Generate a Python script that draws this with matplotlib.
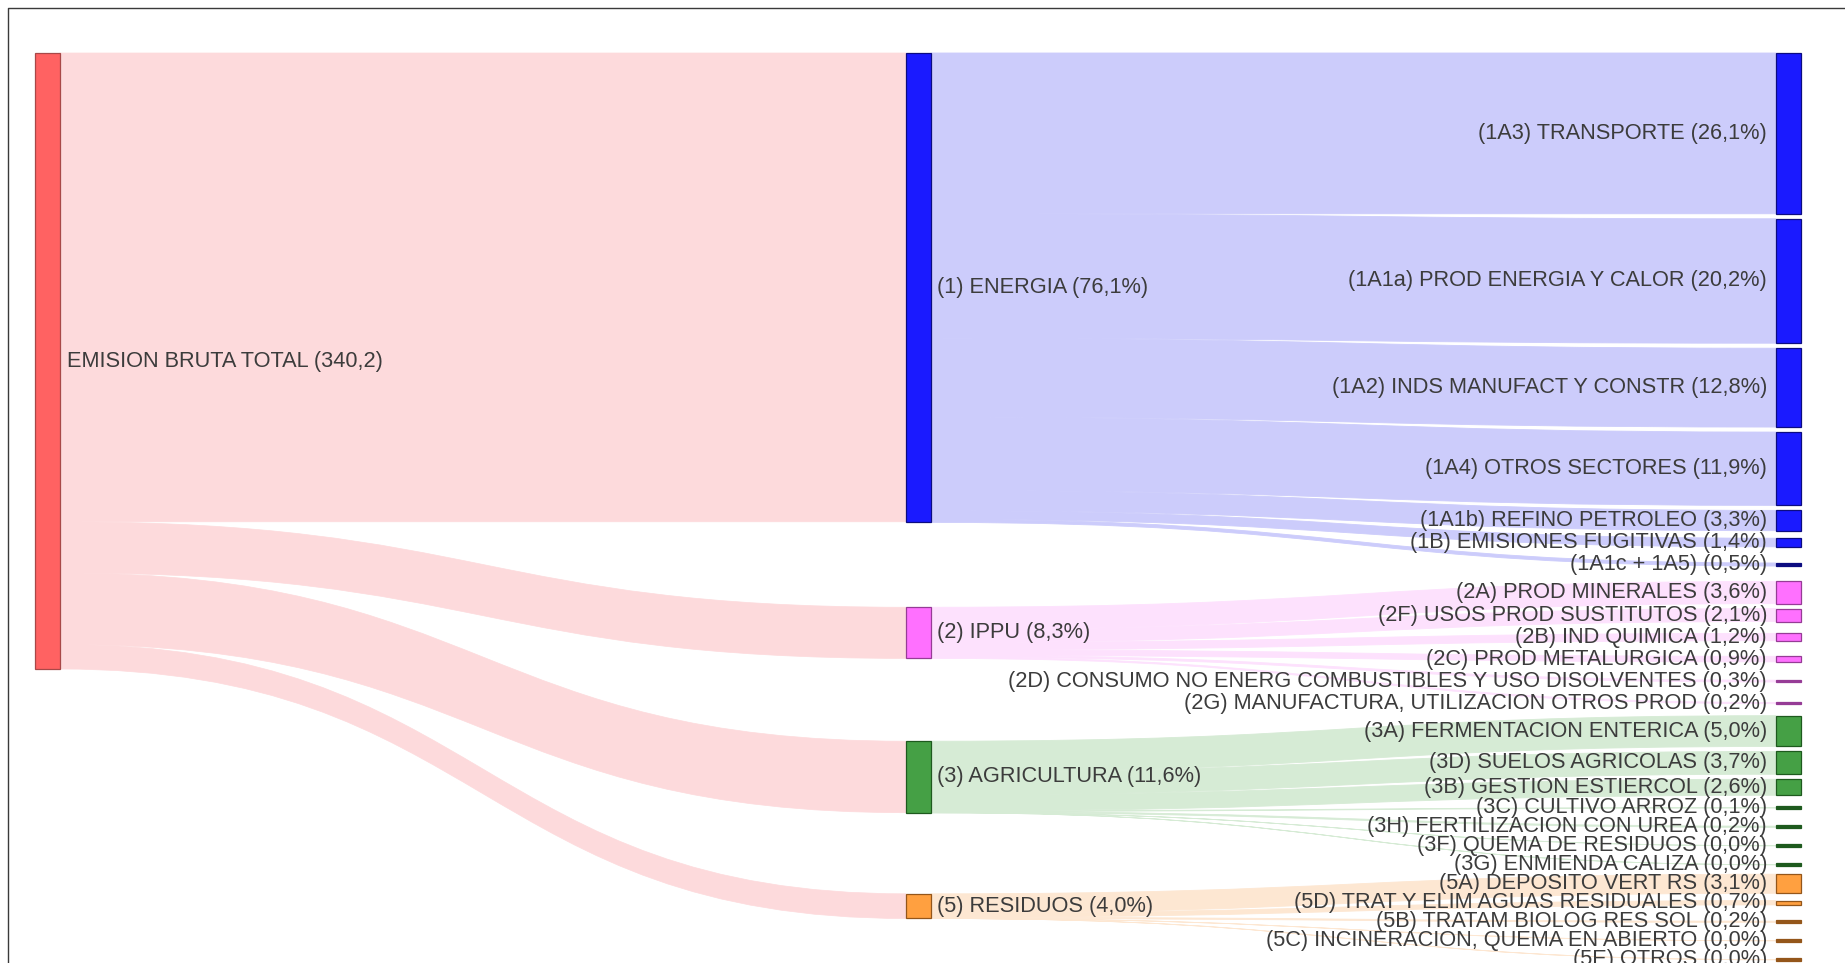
import numpy as np
import matplotlib.pyplot as plt
from matplotlib.path import Path
from matplotlib.patches import PathPatch, Rectangle

plt.rcParams['font.family'] = ['Liberation Sans', 'DejaVu Sans']

### DATA ###

total_name = 'EMISION BRUTA TOTAL'
total_value = 340.2

sector_codes = ['1', '2', '3', '5']
sector_names = ['ENERGIA', 'IPPU', 'AGRICULTURA', 'RESIDUOS']
sector_pct = [76.1, 8.3, 11.6, 4.0]

sub_parent = [0, 0, 0, 0, 0, 0, 0,
              1, 1, 1, 1, 1, 1,
              2, 2, 2, 2, 2, 2, 2,
              3, 3, 3, 3, 3]
sub_codes = ['1A3', '1A1a', '1A2', '1A4', '1A1b', '1B', '1A1c + 1A5',
             '2A', '2F', '2B', '2C', '2D', '2G',
             '3A', '3D', '3B', '3C', '3H', '3F', '3G',
             '5A', '5D', '5B', '5C', '5E']
sub_names = ['TRANSPORTE', 'PROD ENERGIA Y CALOR', 'INDS MANUFACT Y CONSTR',
             'OTROS SECTORES', 'REFINO PETROLEO', 'EMISIONES FUGITIVAS', '',
             'PROD MINERALES', 'USOS PROD SUSTITUTOS', 'IND QUIMICA',
             'PROD METALURGICA',
             'CONSUMO NO ENERG COMBUSTIBLES Y USO DISOLVENTES',
             'MANUFACTURA, UTILIZACION OTROS PROD',
             'FERMENTACION ENTERICA', 'SUELOS AGRICOLAS', 'GESTION ESTIERCOL',
             'CULTIVO ARROZ', 'FERTILIZACION CON UREA', 'QUEMA DE RESIDUOS',
             'ENMIENDA CALIZA',
             'DEPOSITO VERT RS', 'TRAT Y ELIM AGUAS RESIDUALES',
             'TRATAM BIOLOG RES SOL', 'INCINERACION, QUEMA EN ABIERTO', 'OTROS']
sub_pct = [26.1, 20.2, 12.8, 11.9, 3.3, 1.4, 0.5,
           3.6, 2.1, 1.2, 0.9, 0.3, 0.2,
           5.0, 3.7, 2.6, 0.1, 0.2, 0.0, 0.0,
           3.1, 0.7, 0.2, 0.0, 0.0]

### STYLE / LAYOUT ###

W, H = 1845, 963
top, bottom = 53, 961          # chart area (px)
ppp = 6.16                     # px per percent
node_w = 25
x_left, x_mid, x_right = 35, 906, 1776
pad = 5                        # min gap between nodes
sep_down, sep_up = 22, 19      # min centre distance (labels)
group_gap = 6
min_h = 2.5

total_color, total_edge, total_link = '#ff6262', '#a84848', '#fddadc'
node_colors = ['#1a1aff', '#ff70ff', '#45a045', '#ffa040']
node_edges = ['#0c0c80', '#963c96', '#1e5a1e', '#94561a']
link_colors = ['#ccccfb', '#fde1fd', '#d6ebd5', '#fde7d2']
txt_color = '#3c3c3c'
fs = 15.7


def fmt(v):
    return ('%.1f' % v).replace('.', ',')


def band(x0, x1, y0a, y0b, y1a, y1b):
    xm = (x0 + x1) / 2.0
    verts = [(x0, y0a), (xm, y0a), (xm, y1a), (x1, y1a),
             (x1, y1b), (xm, y1b), (xm, y0b), (x0, y0b), (x0, y0a)]
    codes = [Path.MOVETO, Path.CURVE4, Path.CURVE4, Path.CURVE4,
             Path.LINETO, Path.CURVE4, Path.CURVE4, Path.CURVE4, Path.CLOSEPOLY]
    return Path(verts, codes)


### RIGHT COLUMN LAYOUT ###

n = len(sub_pct)
w_r = np.array(sub_pct) * ppp
h_r = np.maximum(w_r, min_h)
c_r = np.zeros(n)
c_r[0] = top + h_r[0] / 2
for i in range(1, n):
    g = group_gap if sub_parent[i] != sub_parent[i - 1] else 0
    c_r[i] = max(c_r[i - 1] + sep_down + g,
                 c_r[i - 1] + h_r[i - 1] / 2 + pad + g + h_r[i] / 2)
if c_r[-1] + h_r[-1] / 2 > bottom:
    c_r[-1] = bottom - h_r[-1] / 2
    for i in range(n - 2, -1, -1):
        c_r[i] = min(c_r[i], c_r[i + 1] - sep_up,
                     c_r[i + 1] - h_r[i + 1] / 2 - pad - h_r[i] / 2)
top_r = c_r - h_r / 2

### MIDDLE COLUMN LAYOUT ###

h_m = np.array(sector_pct) * ppp
top_m = np.zeros(len(sector_pct))
for k in range(len(sector_pct)):
    idx = [i for i in range(n) if sub_parent[i] == k]
    span_c = (top_r[idx[0]] + top_r[idx[-1]] + h_r[idx[-1]]) / 2
    offs = np.concatenate([[0], np.cumsum(w_r[idx])[:-1]])
    tgt = np.array([c_r[i] - w_r[i] / 2 for i in idx])
    wts = w_r[idx]
    link_c = np.sum(wts * (tgt - offs)) / np.sum(wts) + h_m[k] / 2
    cc = 0.6 * span_c + 0.4 * link_c
    t = cc - h_m[k] / 2
    if t - top < 20:
        t = top
    top_m[k] = t

### PLOT ###

fig = plt.figure(figsize=(W / 100, H / 100), dpi=100)
ax = fig.add_axes([0, 0, 1, 1])
ax.set_xlim(0, W)
ax.set_ylim(H, 0)
ax.axis('off')

# frame
ax.plot([8, 8, W], [H, 8, 8], color='#3a3a3a', lw=1.0, zorder=5)

# links left -> middle
y = top
for k in range(len(sector_pct)):
    p = band(x_left + node_w, x_mid, y, y + h_m[k], top_m[k], top_m[k] + h_m[k])
    ax.add_patch(PathPatch(p, fc=total_link, ec=total_link, lw=0.5, zorder=1))
    y += h_m[k]

# links middle -> right
for k in range(len(sector_pct)):
    idx = [i for i in range(n) if sub_parent[i] == k]
    ys = top_m[k]
    for i in idx:
        yt = c_r[i] - w_r[i] / 2
        p = band(x_mid + node_w, x_right, ys, ys + w_r[i], yt, yt + w_r[i])
        ax.add_patch(PathPatch(p, fc=link_colors[k], ec=link_colors[k],
                               lw=0.6, zorder=1))
        ys += w_r[i]

# nodes
ax.add_patch(Rectangle((x_left, top), node_w, sum(h_m), fc=total_color,
                       ec=total_edge, lw=0.9, zorder=3))
ax.text(x_left + node_w + 7, top + sum(h_m) / 2,
        '%s (%s)' % (total_name, fmt(total_value)),
        ha='left', va='center', fontsize=fs, color=txt_color, zorder=4)

for k in range(len(sector_pct)):
    ax.add_patch(Rectangle((x_mid, top_m[k]), node_w, h_m[k], fc=node_colors[k],
                           ec=node_edges[k], lw=0.9, zorder=3))
    ax.text(x_mid + node_w + 6, top_m[k] + h_m[k] / 2,
            '(%s) %s (%s%%)' % (sector_codes[k], sector_names[k], fmt(sector_pct[k])),
            ha='left', va='center', fontsize=fs, color=txt_color, zorder=4)

for i in range(n):
    k = sub_parent[i]
    fc = node_colors[k] if h_r[i] > 4 else node_edges[k]
    ax.add_patch(Rectangle((x_right, top_r[i]), node_w, h_r[i], fc=fc,
                           ec=node_edges[k], lw=0.9, zorder=3))
    name = (' ' + sub_names[i]) if sub_names[i] else ''
    ax.text(x_right - 9, c_r[i], '(%s)%s (%s%%)' % (sub_codes[i], name, fmt(sub_pct[i])),
            ha='right', va='center', fontsize=fs, color=txt_color, zorder=4)

fig.savefig('out.png', dpi=100)
